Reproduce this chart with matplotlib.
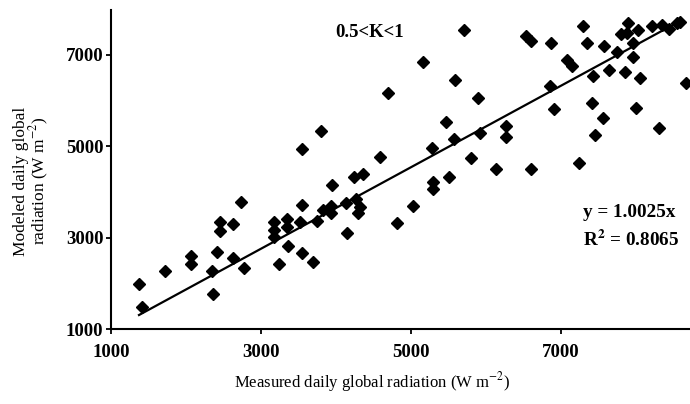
import matplotlib
matplotlib.use("Agg")
import matplotlib.pyplot as plt

plt.rcParams["font.family"] = ["Liberation Serif", "DejaVu Serif"]
plt.rcParams["mathtext.fontset"] = "stix"

# measured vs modeled daily global radiation
measured = [1373, 1417, 1716, 2060, 2060, 2347, 2364, 2417, 2453, 2453,
            2623, 2729, 2624, 2769, 3169, 3169, 3169, 3240, 3347, 3347,
            3364, 3540, 3520, 3543, 3687, 3743, 3824, 3943, 3933, 3933,
            4133, 4147, 4260, 4320, 4297, 4244, 4364, 4807, 5031, 5297,
            5297, 5507, 3551, 3800, 4591, 4697, 5156, 5580, 5704, 5887,
            5464, 5569, 5280, 5916, 5804, 6127, 6600, 6260, 6264, 6533,
            6600, 6871, 7080, 7140, 6857, 6911, 7244, 7297, 7343, 7573,
            7420, 7644, 7853, 8049, 7409, 7556, 7453, 7997, 8304, 8667,
            7743, 7964, 7964, 7887, 7797, 7876, 8031, 8209, 8343, 8440,
            8543, 8587]
modeled = [1977, 1481, 2274, 2607, 2416, 2268, 1761, 2677, 3339, 3142,
           3295, 3776, 2556, 2344, 3345, 3164, 3011, 2421, 3404, 3225,
           2819, 3710, 3350, 2672, 2458, 3354, 3595, 4141, 3689, 3535,
           3748, 3092, 3842, 3673, 3535, 4329, 4381, 3323, 3689, 4220,
           4060, 4329, 4934, 5334, 4766, 6152, 6830, 6443, 7536, 6056,
           5531, 5153, 4950, 5278, 4731, 4497, 4497, 5442, 5203, 7404,
           7295, 7251, 6880, 6760, 6305, 5802, 4635, 7630, 7251, 7179,
           6524, 6661, 6624, 6486, 5946, 5612, 5240, 5824, 5404, 6371,
           7050, 7251, 6952, 7689, 7444, 7463, 7536, 7623, 7656, 7553,
           7682, 7717]

# fitted line as drawn
fit_x = [1373, 8587]
fit_y = [1306, 7732]

ticks = [1000, 3000, 5000, 7000]

fig = plt.figure(figsize=(6.9, 4.04), dpi=100)
ax = fig.add_axes([0.1609, 0.1856, 0.8391, 0.7896])

ax.plot(measured, modeled, "D", color="black", ms=6, mec="black")
ax.plot(fit_x, fit_y, "-", color="black", lw=1.6)

ax.set_xlim(1000, 8720)
ax.set_ylim(1000, 7973)
ax.set_xticks(ticks)
ax.set_yticks(ticks)
for side in ["top", "right"]:
    ax.spines[side].set_visible(False)
for side in ["left", "bottom"]:
    ax.spines[side].set_linewidth(1.5)
ax.tick_params(direction="out", length=3.5, width=1.3, labelsize=13.5, pad=2)
ax.tick_params(axis="x", pad=7)
for lab in ax.get_xticklabels() + ax.get_yticklabels():
    lab.set_fontweight("bold")

ax.text(0.447, 0.928, "0.5<K<1", transform=ax.transAxes, ha="center",
        va="center", fontsize=13.5, fontweight="bold")
ax.text(0.815, 0.364, "y = 1.0025x", transform=ax.transAxes, ha="left",
        va="center", fontsize=13.8, fontweight="bold")
ax.text(0.815, 0.279, r"R$^{\mathbf{2}}$ = 0.8065", transform=ax.transAxes,
        ha="left", va="center", fontsize=13.8, fontweight="bold")

fig.text(372 / 690, 1 - 382 / 404, r"Measured daily global radiation (W m$^{-2}$)",
         ha="center", va="center", fontsize=12)
fig.text(32 / 690, 1 - 181 / 404,
         "Modeled daily global\n" + r"radiation (W m$^{-2}$)",
         ha="center", va="center", rotation=90, fontsize=12.5,
         multialignment="center", linespacing=0.9)

fig.savefig("out.png", dpi=100)
